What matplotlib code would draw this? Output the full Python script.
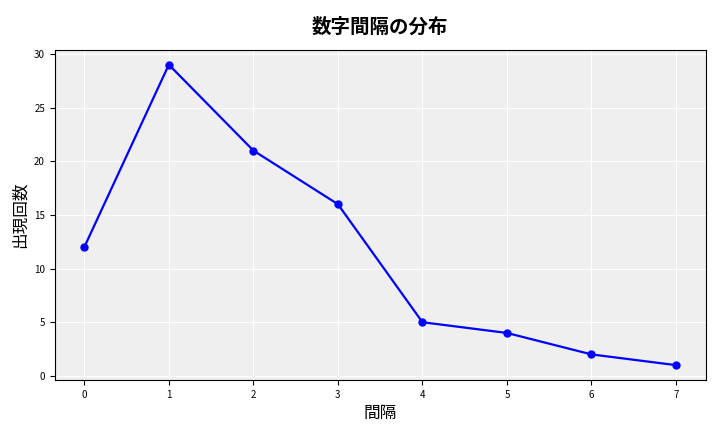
import matplotlib.pyplot as plt

plt.rcParams['font.family'] = ['Noto Sans CJK JP', 'DejaVu Sans']

# データ
intervals = [0, 1, 2, 3, 4, 5, 6, 7]
counts = [12, 29, 21, 16, 5, 4, 2, 1]

fig = plt.figure(figsize=(7.2, 4.32), dpi=100)
ax = fig.add_subplot(111)
ax.set_facecolor('#efefef')

ax.plot(intervals, counts, color='blue', marker='o', markersize=5, linewidth=1.6)

ax.set_title("数字間隔の分布", fontsize=14, fontweight='bold', pad=12)
ax.set_xlabel("間隔", fontsize=12)
ax.set_ylabel("出現回数", fontsize=12)
ax.tick_params(labelsize=7)
ax.grid(True, color='white', linewidth=0.8)
ax.set_axisbelow(True)

for axis in ['top', 'bottom', 'left', 'right']:
    ax.spines[axis].set_color('black')
    ax.spines[axis].set_linewidth(0.8)

plt.subplots_adjust(left=0.076, right=0.98, top=0.885, bottom=0.12)
plt.savefig("out.png")
